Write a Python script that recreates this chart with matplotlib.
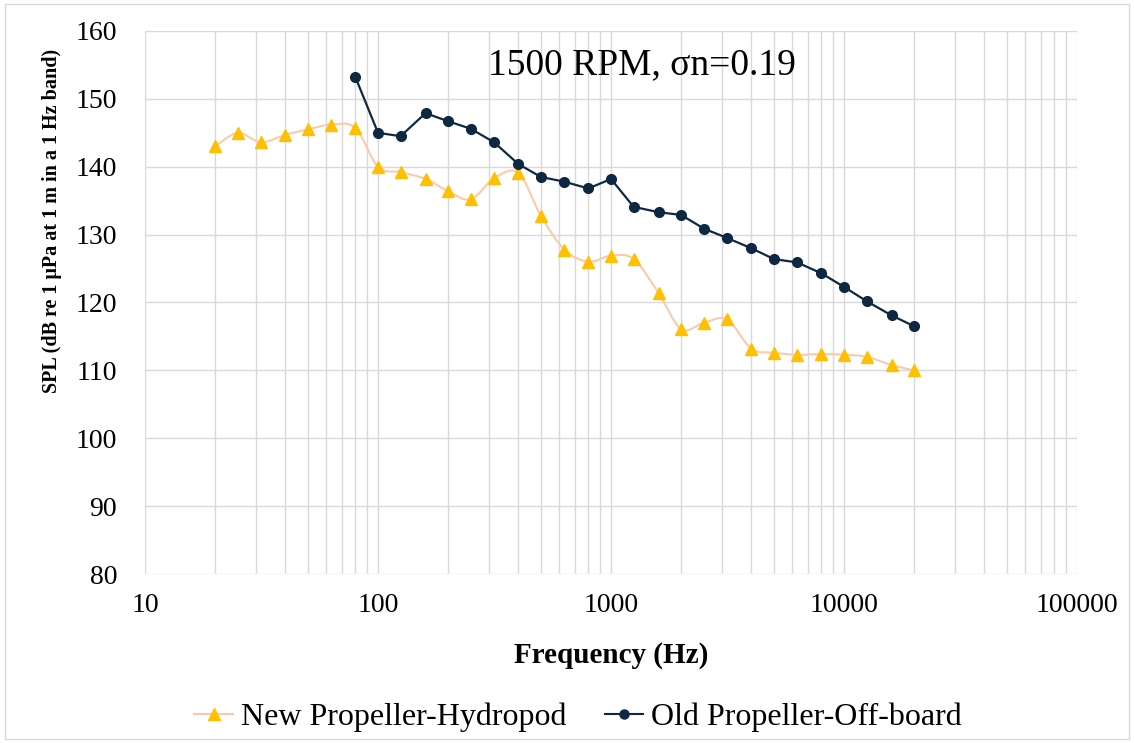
import numpy as np
import matplotlib
matplotlib.use("Agg")
import matplotlib.pyplot as plt
from matplotlib.path import Path
from matplotlib.patches import PathPatch, Rectangle
from matplotlib.lines import Line2D

plt.rcParams['font.family'] = ['Liberation Serif', 'DejaVu Serif']

# 1/3 octave centre frequencies (Hz)
freq_new = [20, 25, 31.5, 40, 50, 63, 80, 100, 125, 160, 200, 250, 315, 400, 500,
            630, 800, 1000, 1250, 1600, 2000, 2500, 3150, 4000, 5000, 6300, 8000,
            10000, 12500, 16000, 20000]
spl_new = [143.0, 145.0, 143.6, 144.7, 145.5, 146.2, 145.7, 140.0, 139.2, 138.2,
           136.4, 135.2, 138.3, 139.1, 132.8, 127.8, 126.0, 126.9, 126.4, 121.4,
           116.1, 117.0, 117.5, 113.2, 112.6, 112.3, 112.4, 112.3, 112.0, 110.8, 110.0]

freq_old = [80, 100, 125, 160, 200, 250, 315, 400, 500, 630, 800, 1000, 1250, 1600,
            2000, 2500, 3150, 4000, 5000, 6300, 8000, 10000, 12500, 16000, 20000]
spl_old = [153.2, 145.0, 144.5, 147.9, 146.7, 145.6, 143.6, 140.4, 138.5, 137.8,
           136.8, 138.2, 134.1, 133.3, 132.9, 130.9, 129.5, 128.0, 126.4, 125.9,
           124.3, 122.3, 120.2, 118.1, 116.5]

label_new = "New Propeller-Hydropod"
label_old = "Old Propeller-Off-board"
title = "1500 RPM, σn=0.19"

c_new_line = "#F8CBAD"
c_new_mark = "#FFC000"
c_old = "#0E2841"


def smooth_path(xs, ys):
    # Excel-like smoothed line: cubic bezier segments, control points built in log-x space
    lx = np.log10(xs)
    y = np.asarray(ys, float)
    n = len(lx)
    verts = [(xs[0], y[0])]
    codes = [Path.MOVETO]
    for i in range(n - 1):
        i0 = max(i - 1, 0)
        i3 = min(i + 2, n - 1)
        c1x = lx[i] + (lx[i + 1] - lx[i0]) / 6
        c1y = y[i] + (y[i + 1] - y[i0]) / 6
        c2x = lx[i + 1] - (lx[i3] - lx[i]) / 6
        c2y = y[i + 1] - (y[i3] - y[i]) / 6
        verts += [(10 ** c1x, c1y), (10 ** c2x, c2y), (xs[i + 1], y[i + 1])]
        codes += [Path.CURVE4] * 3
    return Path(verts, codes)


fig = plt.figure(figsize=(11.34, 7.43), dpi=100)
fig.patches.append(Rectangle((0.004, 0.006), 0.992, 0.988, transform=fig.transFigure,
                             fill=False, edgecolor="#D9D9D9", linewidth=1))
ax = fig.add_axes([145 / 1134, 1 - 574 / 743, (1077 - 145) / 1134, (574 - 31) / 743])

ax.set_xscale("log")
ax.set_xlim(10, 100000)
ax.set_ylim(80, 160)
ax.set_yticks(range(80, 161, 10))
ax.set_xticks([10, 100, 1000, 10000, 100000])
ax.set_xticklabels(["10", "100", "1000", "10000", "100000"])

ax.grid(True, which="both", axis="x", color="#D9D9D9", linewidth=1)
ax.grid(True, which="major", axis="y", color="#D9D9D9", linewidth=1)
ax.set_axisbelow(True)
for s in ax.spines.values():
    s.set_visible(False)
ax.tick_params(which="both", length=0, labelsize=20)
ax.tick_params(axis="y", pad=20)
ax.tick_params(axis="x", pad=14)

ax.add_patch(PathPatch(smooth_path(freq_new, spl_new), fill=False,
                       edgecolor=c_new_line, linewidth=1.5, zorder=2))
ax.plot(freq_new, spl_new, linestyle="none", marker="^", markersize=8.5,
        color=c_new_mark, zorder=3)
ax.plot(freq_old, spl_old, color=c_old, linewidth=1.6, marker="o", markersize=7,
        zorder=4)

ax.text(0.533, 0.97, title, transform=ax.transAxes, ha="center", va="top", fontsize=27)
ax.set_xlabel("Frequency (Hz)", fontsize=21, fontweight="bold", va="top")
ax.xaxis.set_label_coords(0.5, -0.125)
ax.set_ylabel("SPL (dB re 1 μPa at 1 m in a 1 Hz band)", fontsize=14.5,
              fontweight="bold")
ax.yaxis.set_label_coords(-0.089, 0.65)

handles = [Line2D([], [], color=c_new_line, marker="^", markerfacecolor=c_new_mark,
                  markeredgecolor=c_new_mark, markersize=8, linewidth=1.5),
           Line2D([], [], color=c_old, marker="o", markersize=6.5, linewidth=1.5)]
fig.legend(handles, [label_new, label_old], loc="center", bbox_to_anchor=(578 / 1134, 0.035),
           ncol=2, frameon=False, fontsize=23, handlelength=1.2, handletextpad=0.25,
           columnspacing=1.2)

fig.savefig("out.png", dpi=100)
